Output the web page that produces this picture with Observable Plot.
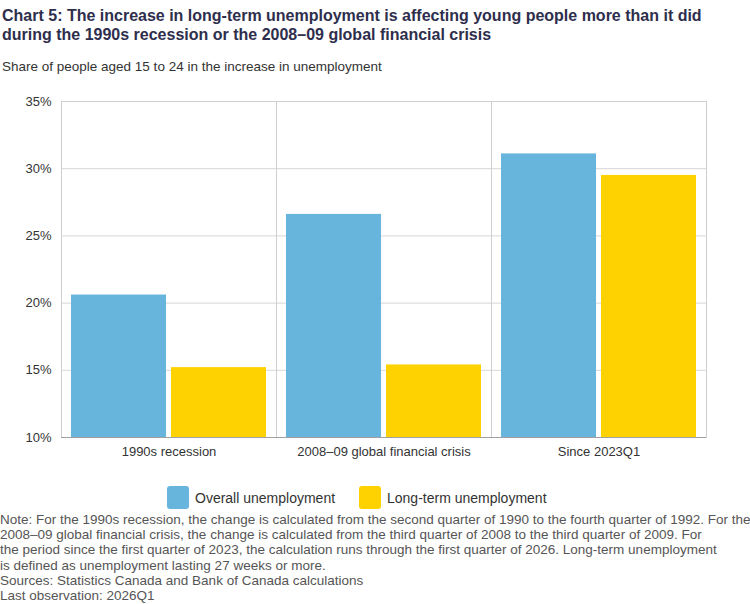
<!DOCTYPE html>
<html>
<head>
<meta charset="utf-8">
<script src="https://cdn.jsdelivr.net/npm/d3@7"></script>
<script src="https://cdn.jsdelivr.net/npm/@observablehq/plot@0.6"></script>
<style>
  html, body { margin: 0; padding: 0; background: #fff; }
  body { width: 750px; height: 604px; position: relative; overflow: hidden; font-family: "Liberation Sans", Arial, sans-serif; }
  #title { position: absolute; left: 2px; top: 6px; font-size: 16px; font-weight: bold; line-height: 19px; color: #2e2e4d; }
  #subtitle { position: absolute; left: 2px; top: 59px; font-size: 13.5px; color: #333; }
  #chart { position: absolute; left: 0; top: 80px; }
  #legend { position: absolute; left: 0; top: 486px; width: 750px; height: 23px; }
  .lg { position: absolute; top: 0; display: flex; align-items: center; height: 23px; font-size: 14px; color: #333; }
  .sw { width: 22px; height: 23px; border-radius: 3px; margin-right: 6px; }
  #notes { position: absolute; left: 0; top: 512px; font-size: 13.5px; line-height: 15.2px; color: #555; width: 760px; white-space: nowrap; }
</style>
</head>
<body>
<div id="title">Chart 5: The increase in long-term unemployment is affecting young people more than it did<br>during the 1990s recession or the 2008–09 global financial crisis</div>
<div id="subtitle">Share of people aged 15 to 24 in the increase in unemployment</div>
<div id="chart"></div>
<div id="legend"></div>
<div id="notes">Note: For the 1990s recession, the change is calculated from the second quarter of 1990 to the fourth quarter of 1992. For the<br>2008–09 global financial crisis, the change is calculated from the third quarter of 2008 to the third quarter of 2009. For<br>the period since the first quarter of 2023, the calculation runs through the first quarter of 2026. Long-term unemployment<br>is defined as unemployment lasting 27 weeks or more.<br>Sources: Statistics Canada and Bank of Canada calculations<br>Last observation: 2026Q1</div>
<script>
const periods = ["1990s recession", "2008–09 global financial crisis", "Since 2023Q1"];
const seriesNames = ["Overall unemployment", "Long-term unemployment"];
const overall = [20.6, 26.6, 31.1];
const longTerm = [15.2, 15.4, 29.5];
const yDomain = [10, 35];
const yTicks = [10, 15, 20, 25, 30, 35];
const colors = ["#67b5dc", "#fed200"];

const data = periods.flatMap((p, i) => [
  {period: p, series: seriesNames[0], value: overall[i]},
  {period: p, series: seriesNames[1], value: longTerm[i]}
]);

const chart = Plot.plot({
  width: 750,
  height: 387,
  marginLeft: 60,
  marginRight: 43,
  marginTop: 21,
  marginBottom: 30,
  style: {fontFamily: "'Liberation Sans', Arial, sans-serif", fontSize: "13px", color: "#333", background: "#fff"},
  fx: {domain: periods, padding: 0, label: null},
  x: {domain: seriesNames, axis: null, paddingInner: 0.05, paddingOuter: 0.09},
  y: {domain: yDomain, label: null},
  color: {domain: seriesNames, range: colors},
  marks: [
    Plot.gridY(yTicks, {stroke: "#d6d6d6", strokeOpacity: 1}),
    Plot.frame({stroke: "#cfcfcf"}),
    Plot.barY(data, {fx: "period", x: "series", y1: yDomain[0], y2: "value", fill: "series"}),
    Plot.ruleY([yDomain[0]], {stroke: "#a0a0a0"}),
    Plot.axisY(yTicks, {tickSize: 0, tickPadding: 10, tickFormat: d => d + "%", label: null, fontSize: 13, fill: "#333"}),
    Plot.axisFx({anchor: "bottom", tickSize: 0, tickPadding: 9, label: null, fontSize: 13, fill: "#333"})
  ]
});
document.getElementById("chart").appendChild(chart);

const legend = document.getElementById("legend");
const legendX = [167, 359];
seriesNames.forEach((s, i) => {
  const item = document.createElement("div");
  item.className = "lg";
  item.style.left = legendX[i] + "px";
  const sw = document.createElement("div");
  sw.className = "sw";
  sw.style.background = colors[i];
  item.appendChild(sw);
  item.appendChild(document.createTextNode(s));
  legend.appendChild(item);
});
</script>
</body>
</html>
